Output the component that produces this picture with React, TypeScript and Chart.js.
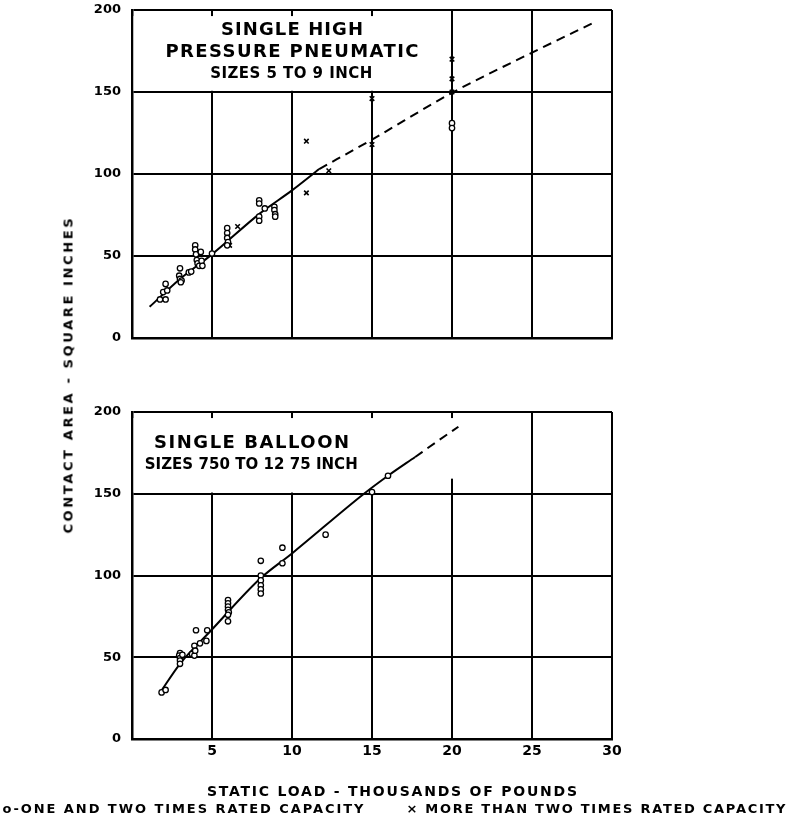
import React, { useEffect, useLayoutEffect, useRef } from 'react';
import { Chart, registerables } from 'chart.js';

Chart.register(...registerables);

// ---------- DATA ----------
const X_TICK_LABELS = ['', '5', '10', '15', '20', '25', '30'];
const Y_TICK_LABELS = ['0', '50', '100', '150', '200'];

// Top panel: single high pressure pneumatic
const hpOneTwo: [number, number][] = [
  [1.75, 23.5], [2.1, 23.5], [1.95, 28], [2.2, 29], [2.1, 33],
  [3.0, 42.5], [2.95, 38], [3.0, 36], [3.1, 35], [3.05, 34], [3.55, 40], [3.7, 40.5],
  [3.95, 56.5], [3.95, 54], [4.0, 51], [4.05, 47.5], [4.1, 45.5], [4.2, 44],
  [4.3, 52.5], [4.35, 47], [4.4, 44], [5.0, 51.5],
  [5.95, 67], [5.95, 64], [5.95, 61], [6.0, 58.5], [5.95, 56.5],
  [7.95, 84], [7.95, 82], [7.95, 74], [7.95, 71.5], [8.3, 79],
  [8.9, 80], [8.9, 78], [8.95, 75.5], [8.95, 74],
  [20, 131], [20, 128],
];
const hpOverTwo: [number, number][] = [
  [6.1, 56.5], [6.6, 68], [10.9, 120], [10.9, 88.5], [12.3, 102],
  [15, 146], [15, 118], [20, 170], [20, 158], [20, 150],
];
const hpCurveSolid: [number, number][] = [
  [1.1, 19], [3, 36], [5, 51], [8, 76], [10, 90], [11.7, 103],
];
const hpCurveDashed: [number, number][] = [
  [11.7, 103], [15, 121], [20, 149.5], [25, 174], [28.8, 192],
];

// Bottom panel: single balloon
const blOneTwo: [number, number][] = [
  [1.85, 28.5], [2.1, 30], [3.0, 52.5], [2.95, 51], [3.0, 49.5], [3.0, 48], [3.0, 46],
  [3.15, 51.5], [3.75, 52], [3.9, 57], [3.9, 51], [3.95, 54], [4.0, 66.5],
  [4.25, 58.5], [4.65, 60], [4.7, 66.5],
  [6.0, 85], [6.0, 83], [6.0, 81], [6.0, 79], [6.05, 77.5], [6.0, 76], [6.0, 72],
  [8.05, 109], [8.05, 100], [8.05, 97], [8.05, 94], [8.05, 91.5], [8.05, 89],
  [9.4, 117], [9.4, 107.5], [12.1, 125], [15, 151], [16.0, 161],
];
const blCurveSolid: [number, number][] = [
  [1.8, 29], [3.0, 46], [5.0, 67], [8.0, 98], [10, 113.5], [14.5, 150], [16, 161], [17.7, 172.5],
];
const blCurveDashed: [number, number][] = [
  [17.7, 172.5], [19, 181.5], [20.4, 191],
];

const TOP_TITLE = ['SINGLE HIGH', 'PRESSURE PNEUMATIC', 'SIZES 5 TO 9 INCH'];
const BOTTOM_TITLE = ['SINGLE BALLOON', 'SIZES 750 TO 12 75 INCH'];
const X_TITLE = 'STATIC LOAD - THOUSANDS OF POUNDS';
const Y_TITLE = 'CONTACT AREA - SQUARE INCHES';
const LEGEND_CIRCLE = 'o-ONE AND TWO TIMES RATED CAPACITY';
const LEGEND_CROSS = '× MORE THAN TWO TIMES RATED CAPACITY';

// ---------- STYLE ----------
const FONT = '"DejaVu Sans", "Liberation Sans", sans-serif';
const toPts = (a: [number, number][]) => a.map(([x, y]) => ({ x, y }));

function drawFitted(ctx: CanvasRenderingContext2D, text: string, cx: number, cy: number, width: number, size: number) {
  ctx.save();
  ctx.font = `bold ${size}px ${FONT}`;
  (ctx as any).letterSpacing = '0px';
  const w0 = ctx.measureText(text).width;
  const s = text.length > 1 ? (width - w0) / (text.length - 1) : 0;
  (ctx as any).letterSpacing = `${s}px`;
  ctx.textAlign = 'left';
  ctx.textBaseline = 'middle';
  ctx.fillStyle = '#000';
  ctx.fillText(text, cx - width / 2, cy);
  ctx.restore();
}

const panelPlugin = {
  id: 'panelTitle',
  beforeDatasetsDraw(chart: any, _args: any, opts: any) {
    const { ctx, scales } = chart;
    const xs = scales.x, ys = scales.y;
    ctx.save();
    ctx.fillStyle = '#fff';
    for (const r of opts.rects || []) {
      const l = xs.getPixelForValue(r.x0) + 1.5;
      const rr = xs.getPixelForValue(r.x1);
      const t = ys.getPixelForValue(r.y1);
      const b = ys.getPixelForValue(r.y0) - 1.2;
      ctx.fillRect(l, t, rr - l, b - t);
    }
    ctx.restore();
  },
  afterDatasetsDraw(chart: any, _args: any, opts: any) {
    const { ctx, scales } = chart;
    for (const ln of opts.lines || []) {
      drawFitted(ctx, ln.text, scales.x.getPixelForValue(ln.x), scales.y.getPixelForValue(ln.y), ln.width, ln.size);
    }
  },
};

function makeOptions(showX: boolean, padTop: number, xHeight: number, plugin: any) {
  return {
    responsive: false,
    maintainAspectRatio: false,
    animation: false as const,
    devicePixelRatio: 1,
    layout: { padding: { top: padTop, right: 178, left: 0, bottom: 0 } },
    plugins: { legend: { display: false }, tooltip: { enabled: false }, panelTitle: plugin },
    scales: {
      x: {
        type: 'linear' as const,
        min: 0,
        max: 30,
        afterFit: (s: any) => { s.height = xHeight; s.paddingLeft = 0; s.paddingRight = 0; },
        afterBuildTicks: (s: any) => { s.ticks = [0, 5, 10, 15, 20, 25, 30].map((v) => ({ value: v })); },
        ticks: {
          display: showX,
          stepSize: 5,
          padding: 4,
          color: '#000',
          font: { family: FONT, size: 14, weight: 'bold' as const },
          maxRotation: 0,
          callback: (_v: any, i: number) => X_TICK_LABELS[i],
        },
        grid: { color: '#000', lineWidth: 2, drawTicks: false },
        border: { display: true, color: '#000', width: 2.5 },
      },
      y: {
        type: 'linear' as const,
        min: 0,
        max: 200,
        afterFit: (s: any) => { s.width = 132; s.paddingTop = 0; s.paddingBottom = 0; },
        afterBuildTicks: (s: any) => { s.ticks = [0, 50, 100, 150, 200].map((v) => ({ value: v })); },
        ticks: {
          stepSize: 50,
          padding: 11,
          color: '#000',
          font: { family: FONT, size: 13, weight: 'bold' as const },
          callback: (_v: any, i: number) => Y_TICK_LABELS[i],
        },
        grid: { color: '#000', lineWidth: 2, drawTicks: false },
        border: { display: true, color: '#000', width: 2.5 },
      },
    },
  };
}

const circleDs = (data: [number, number][]) => ({
  type: 'scatter' as const,
  data: toPts(data),
  pointStyle: 'circle',
  pointRadius: 2.7,
  pointBorderWidth: 1.3,
  pointBackgroundColor: '#fff',
  pointBorderColor: '#000',
  order: 1,
});
const crossDs = (data: [number, number][]) => ({
  type: 'scatter' as const,
  data: toPts(data),
  pointStyle: 'crossRot',
  pointRadius: 3.2,
  pointBorderWidth: 1.6,
  pointBorderColor: '#000',
  order: 1,
});
const lineDs = (data: [number, number][], dashed: boolean) => ({
  type: 'line' as const,
  data: toPts(data),
  borderColor: '#000',
  borderWidth: 2,
  borderDash: dashed ? [9, 6] : [],
  pointRadius: 0,
  fill: false,
  cubicInterpolationMode: 'monotone' as const,
  order: 2,
});

function Panel({ top, height, datasets, showX, padTop, xHeight, plugin }: any) {
  const ref = useRef<HTMLCanvasElement>(null);
  useEffect(() => {
    if (!ref.current) return;
    const chart = new Chart(ref.current, {
      type: 'scatter',
      data: { datasets },
      options: makeOptions(showX, padTop, xHeight, plugin) as any,
      plugins: [panelPlugin],
    });
    return () => chart.destroy();
  }, []);
  return (
    <canvas
      ref={ref}
      width={790}
      height={height}
      style={{ position: 'absolute', left: 0, top, width: 790, height }}
    />
  );
}

function FitText({ text, cx, cy, width, size, rotate }: any) {
  const ref = useRef<HTMLSpanElement>(null);
  useLayoutEffect(() => {
    const el = ref.current;
    if (!el) return;
    el.style.letterSpacing = '0px';
    el.style.paddingLeft = '0px';
    const w = el.offsetWidth;
    const s = (width - w) / Math.max(1, text.length - 1);
    el.style.letterSpacing = `${s}px`;
    el.style.paddingLeft = `${s}px`;
  }, [text, width]);
  return (
    <span
      ref={ref}
      style={{
        position: 'absolute',
        left: cx,
        top: cy,
        transform: `translate(-50%, -50%)${rotate ? ' rotate(-90deg)' : ''}`,
        whiteSpace: 'nowrap',
        font: `bold ${size}px ${FONT}`,
        lineHeight: 1,
        color: '#000',
      }}
    >
      {text}
    </span>
  );
}

export default function App() {
  const topDatasets = [
    circleDs(hpOneTwo),
    crossDs(hpOverTwo),
    lineDs(hpCurveSolid, false),
    lineDs(hpCurveDashed, true),
  ];
  const bottomDatasets = [
    circleDs(blOneTwo),
    lineDs(blCurveSolid, false),
    lineDs(blCurveDashed, true),
  ];
  const topPlugin = {
    rects: [{ x0: 0, x1: 19.4, y0: 150, y1: 196.3 }],
    lines: [
      { text: TOP_TITLE[0], x: 10, y: 187.8, width: 142, size: 18 },
      { text: TOP_TITLE[1], x: 10, y: 174, width: 253, size: 18 },
      { text: TOP_TITLE[2], x: 9.95, y: 161, width: 162, size: 15 },
    ],
  };
  const bottomPlugin = {
    rects: [
      { x0: 0, x1: 17.2, y0: 150, y1: 196.3 },
      { x0: 17.2, x1: 20.7, y0: 158.5, y1: 196.3 },
    ],
    lines: [
      { text: BOTTOM_TITLE[0], x: 7.47, y: 180.6, width: 195, size: 18 },
      { text: BOTTOM_TITLE[1], x: 7.45, y: 167.4, width: 213, size: 15 },
    ],
  };
  return (
    <div style={{ position: 'absolute', left: 0, top: 0, width: 790, height: 822, background: '#fff', overflow: 'hidden' }}>
      <Panel top={0} height={360} datasets={topDatasets} showX={false} padTop={10} xHeight={22} plugin={topPlugin} />
      <Panel top={390} height={400} datasets={bottomDatasets} showX={true} padTop={22} xHeight={51} plugin={bottomPlugin} />
      <FitText text={Y_TITLE} cx={68} cy={376} width={315} size={13} rotate />
      <FitText text={X_TITLE} cx={392} cy={791} width={370} size={14} />
      <FitText text={LEGEND_CIRCLE} cx={183} cy={808} width={361} size={13} />
      <FitText text={LEGEND_CROSS} cx={596} cy={808} width={379} size={13} />
    </div>
  );
}
